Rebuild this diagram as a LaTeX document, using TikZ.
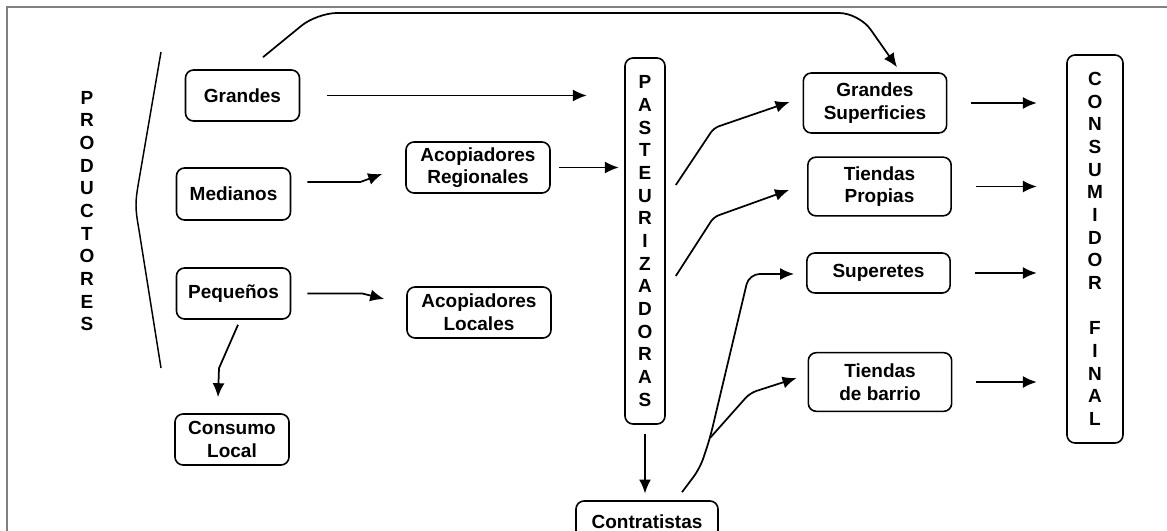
\documentclass[tikz,border=0pt]{standalone}
\usepackage{fontspec}
\setmainfont{Liberation Sans}
\usetikzlibrary{arrows.meta,calc}
\begin{document}
\begin{tikzpicture}[x=0.75pt,y=-0.75pt,
    every node/.style={font=\fontsize{14.25}{17}\selectfont\bfseries, align=center, inner sep=0pt},
    caja/.style={draw, rounded corners=6pt, line width=1.2pt},
    chica/.style={caja, minimum width=85.5pt, minimum height=38.25pt},
    media/.style={caja, minimum width=108pt, minimum height=38.25pt},
    tienda/.style={caja, minimum width=107.5pt, minimum height=44pt},
    flecha/.style={line width=1.3pt, -{Latex[length=10.5pt,width=9pt]}}]
        \clip (0,0) rectangle (1167,531);
        \draw[gray, line width=0.9pt] (7,7) rectangle (1190,560);

        \node (prod) at (87,211) {P\\R\\O\\D\\U\\C\\T\\O\\R\\E\\S};
        \draw[line width=1.1pt] (161,52) -- (139,180) .. controls (135,203) and (135,207) .. (139,230) -- (161,368);

        \node[chica] (grandes) at (242.5,95.5) {Grandes};
        \node[chica, minimum height=39pt] (medianos) at (233.5,194) {Medianos};
        \node[chica] (pequenos) at (233.5,293.5) {Pequeños};
        \node[chica] (consumo) at (232,439.5) {Consumo\\Local};
        \node[media] (acopreg) at (478,167.5) {Acopiadores\\Regionales};
        \node[media] (acoploc) at (479,312.5) {Acopiadores\\Locales};
        \node[caja, minimum width=30pt, minimum height=274.5pt] (pasteur) at (645,241) {P\\A\\S\\T\\E\\U\\R\\I\\Z\\A\\D\\O\\R\\A\\S};
        \node[caja, minimum width=106.5pt, minimum height=31.5pt] (contrat) at (647,522) {Contratistas};
        \node[tienda, minimum height=45pt] (grandsup) at (875,103) {Grandes\\Superficies};
        \node[tienda] (propias) at (879.5,186.5) {Tiendas\\Propias};
        \node[tienda, minimum height=30pt] (superetes) at (878.5,273) {Superetes};
        \node[tienda] (barrio) at (880,382) {Tiendas\\de barrio};
        \node[caja, minimum width=42pt, minimum height=291pt] (consumidor) at (1095,249) {C\\O\\N\\S\\U\\M\\I\\D\\O\\R\\[17pt]F\\I\\N\\A\\L};

        \coordinate (arcoA) at (317,13);
        \coordinate (arcoB) at (859,13);
        \coordinate (cruce) at (710,438);

        \draw[flecha, rounded corners=15pt] ($(grandes.north)+(20.5,-12)$) -- (arcoA) -- (arcoB) -- ($(grandsup.north)+(22,-5)$);
        \draw[flecha, shorten <=20pt, shorten >=28pt] (grandes.east) -- (grandes.east -| pasteur.west);
        \draw[flecha] ($(medianos.east)+(16,-12)$) -- ++(53,0) -- ($(acopreg.west)+(-23,6.5)$);
        \draw[flecha] ($(pequenos.east)+(16,0)$) -- ++(55,0) -- ($(acoploc.west)+(-22,-13.5)$);
        \draw[flecha] ($(pequenos.south)+(4.5,5)$) -- ($(consumo.north)+(-13,-45)$) -- ($(consumo.north)+(-14,-16)$);
        \draw[flecha, shorten <=6pt, shorten >=4pt] (acopreg.east) -- (acopreg.east -| pasteur.west);

        \draw[flecha, rounded corners=4pt] ($(pasteur.east)+(10,-56)$) -- ++(38,-57) -- ($(grandsup.west)+(-13,-1)$);
        \draw[flecha, rounded corners=4pt] ($(pasteur.east)+(10,35)$) -- ++(38,-59) -- ($(propias.west)+(-18,3.5)$);
        \draw[flecha, shorten <=7pt, shorten >=5pt] (pasteur.south) -- (pasteur.south |- contrat.north);
        \draw[flecha, rounded corners=8pt] ($(contrat.north)+(35,-8)$) -- ++(18,-24) -- (cruce) -- ++(39,-164) -- ($(superetes.west)+(-12,1)$);
        \draw[flecha, rounded corners=5pt] (cruce) -- ++(40,-45) -- ($(barrio.west)+(-11,-4)$);

        \foreach \n in {grandsup,propias,superetes,barrio}
          \draw[flecha, shorten <=18pt, shorten >=22pt] (\n.east) -- (\n.east -| consumidor.west);
      \end{tikzpicture}
\end{document}
